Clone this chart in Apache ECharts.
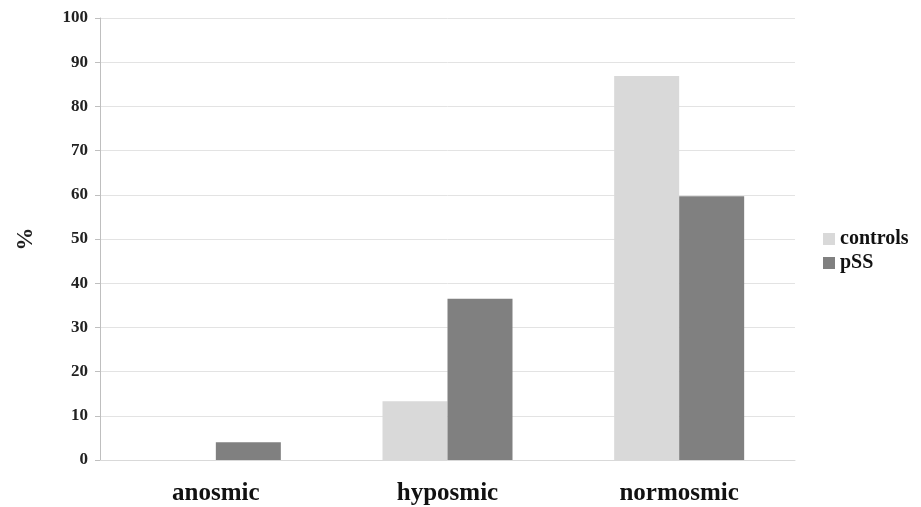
<!DOCTYPE html>
<html>
<head>
<meta charset="utf-8">
<script src="https://cdn.jsdelivr.net/npm/echarts@6/dist/echarts.min.js"></script>
<style>html,body{margin:0;padding:0;background:#fff}#c{width:921px;height:507px}</style>
</head>
<body>
<div id="c"></div>
<script>
const categories = ['anosmic', 'hyposmic', 'normosmic'];
const controls = [0, 13.3, 86.9];
const pSS = [4, 36.5, 59.7];
const yTicks = [0, 10, 20, 30, 40, 50, 60, 70, 80, 90, 100];

const chart = echarts.init(document.getElementById('c'));
const serif = '"Liberation Serif", "DejaVu Serif", serif';
chart.setOption({
  animation: false,
  backgroundColor: '#fff',
  grid: { left: 100, right: 126, top: 18, bottom: 47 },
  legend: {
    orient: 'vertical',
    left: 818,
    top: 224,
    itemWidth: 12,
    itemHeight: 12,
    itemGap: 4,
    icon: 'rect',
    textStyle: { fontFamily: serif, fontWeight: 'bold', fontSize: 20, color: '#111' },
    data: ['controls', 'pSS']
  },
  xAxis: {
    type: 'category',
    data: categories,
    axisLine: { lineStyle: { color: '#d9d9d9' } },
    axisTick: { show: false },
    axisLabel: { fontFamily: serif, fontWeight: 'bold', fontSize: 25, color: '#111', margin: 21 }
  },
  yAxis: {
    type: 'value',
    min: 0, max: 100, interval: 10,
    name: '%',
    nameLocation: 'middle',
    nameGap: 62,
    nameRotate: 90,
    nameTextStyle: { fontFamily: serif, fontSize: 23, color: '#222', fontWeight: 'bold' },
    axisLine: { show: true, lineStyle: { color: '#bfbfbf' } },
    axisTick: { show: true, length: 5, lineStyle: { color: '#bfbfbf' } },
    axisLabel: { fontFamily: serif, fontWeight: 'bold', fontSize: 17, color: '#222', margin: 12,
      formatter: v => yTicks.includes(v) ? String(v) : '' },
    splitLine: { lineStyle: { color: '#e3e3e3' } }
  },
  series: [
    { name: 'controls', type: 'bar', data: controls, barWidth: 65, barGap: '0%', itemStyle: { color: '#d9d9d9' } },
    { name: 'pSS', type: 'bar', data: pSS, barWidth: 65, barGap: '0%', itemStyle: { color: '#808080' } }
  ]
});
</script>
</body>
</html>
